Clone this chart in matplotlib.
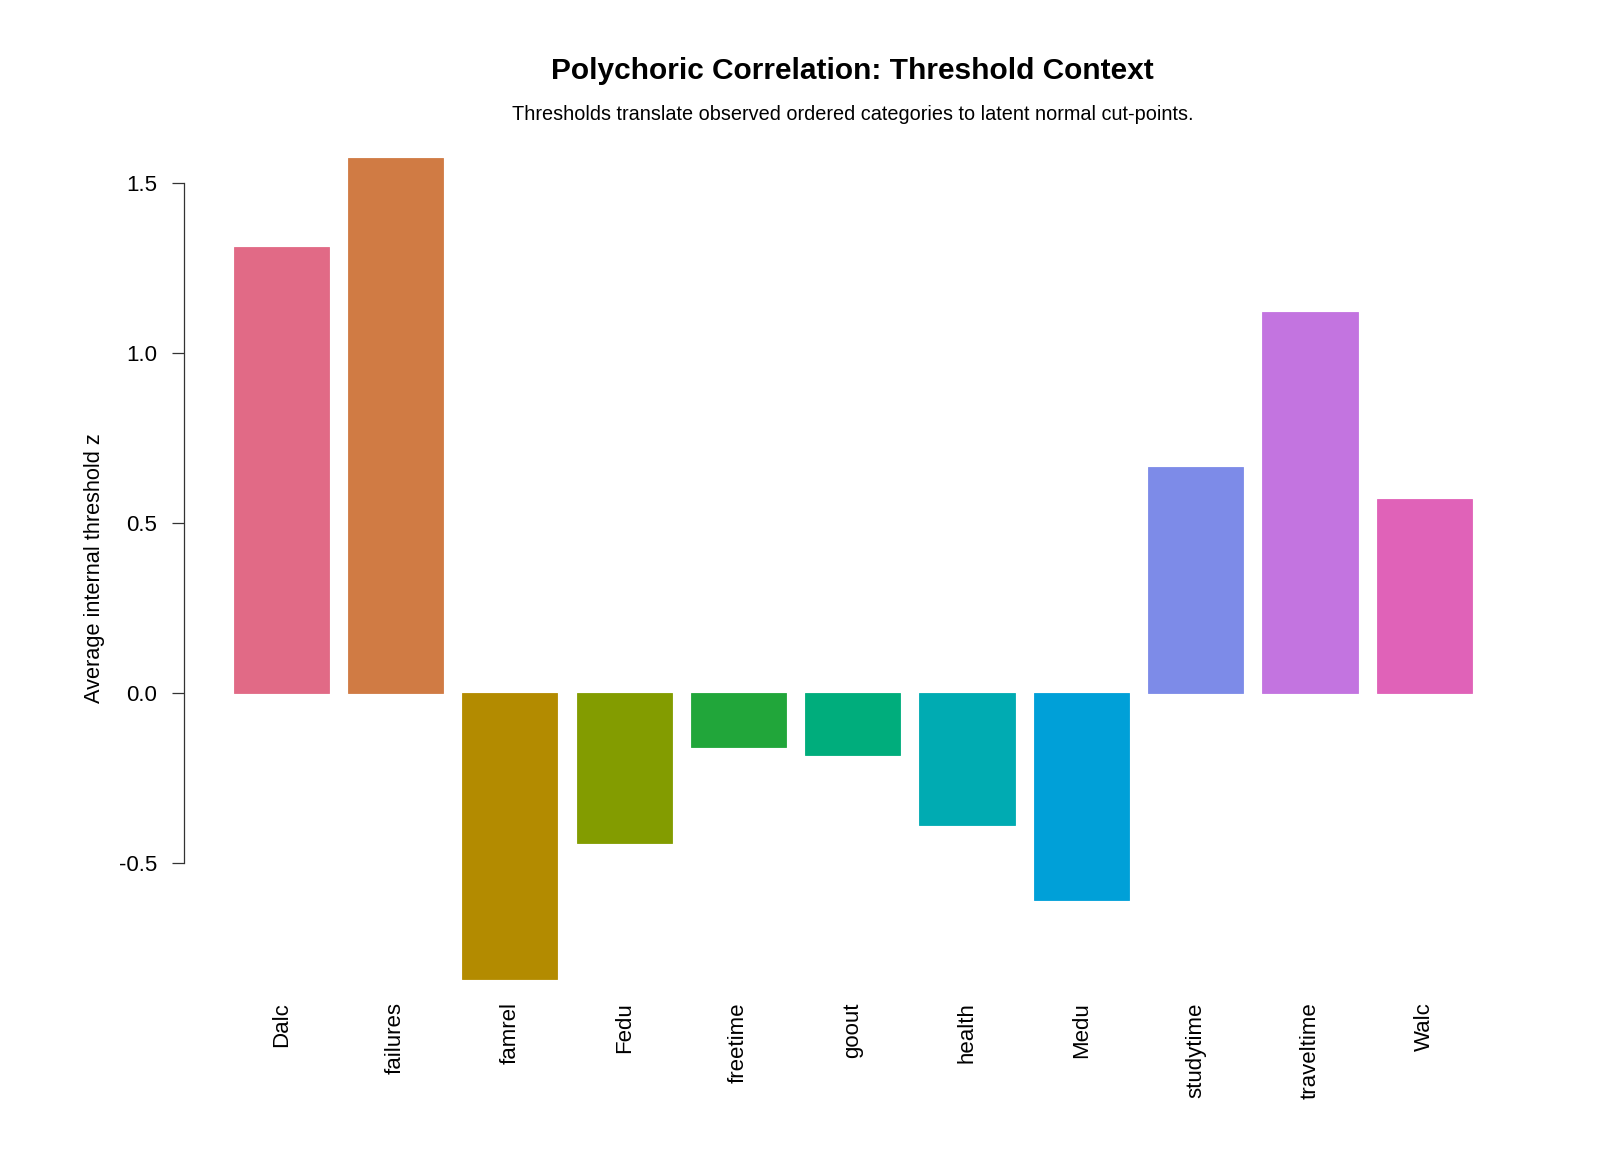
import numpy as np
import matplotlib.pyplot as plt

plt.rcParams['font.family'] = ['Liberation Sans', 'DejaVu Sans']

variables = ["Dalc", "failures", "famrel", "Fedu", "freetime", "goout",
             "health", "Medu", "studytime", "traveltime", "Walc"]
avg_threshold = [1.313, 1.574, -0.841, -0.441, -0.159, -0.182,
                 -0.387, -0.608, 0.664, 1.121, 0.571]
bar_colors = ["#E16A86", "#D07B44", "#B38B00", "#839C00", "#21A63A", "#00AD7C",
              "#00ABB2", "#00A0D8", "#7D8BE8", "#C374E0", "#E062B8"]
yticks = [-0.5, 0.0, 0.5, 1.0, 1.5]

fig = plt.figure(figsize=(16, 11.64), dpi=100)
ax = fig.add_axes([0.115, 0.1306, 0.836, 0.762])

# R barplot layout: width 1, space 0.2
x = 0.2 + 1.2 * np.arange(len(variables)) + 0.5
ax.bar(x, avg_threshold, width=1.0, color=bar_colors, edgecolor=bar_colors, linewidth=0.6)

lo = min(0, min(avg_threshold))
hi = max(0, max(avg_threshold))
ext = 0.04 * (hi - lo)
ax.set_ylim(lo - ext, hi + ext)
ax.set_xlim(0.2 - 0.04 * 13, 13.2 + 0.04 * 13)

for s in ['top', 'right', 'bottom']:
    ax.spines[s].set_visible(False)
ax.spines['left'].set_bounds(yticks[0], yticks[-1])
ax.spines['left'].set_color('#333333')
ax.spines['left'].set_linewidth(0.9)

ax.set_yticks(yticks)
ax.set_yticklabels([f"{v:.1f}" for v in yticks])
ax.tick_params(axis='y', length=8.5, width=0.9, color='#333333', pad=11, labelsize=16)

ax.set_xticks(x)
ax.set_xticklabels(variables, rotation=90, va='top', ha='center')
ax.tick_params(axis='x', length=0, pad=-7, labelsize=16)

ax.set_ylabel("Average internal threshold z", fontsize=15.7, labelpad=10)

fig.text(0.533, 0.939, "Polychoric Correlation: Threshold Context",
         ha='center', va='center', fontsize=21.5, fontweight='bold')
fig.text(0.533, 0.902, "Thresholds translate observed ordered categories to latent normal cut-points.",
         ha='center', va='center', fontsize=14.3)

fig.savefig("out.png", dpi=100, facecolor='white')
